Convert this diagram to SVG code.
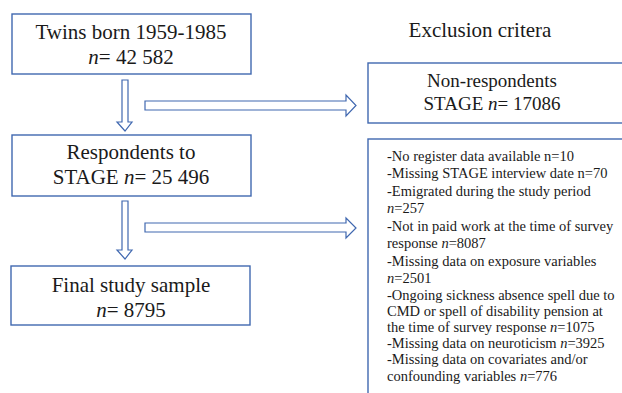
<svg xmlns="http://www.w3.org/2000/svg" width="622" height="393" viewBox="0 0 622 393">
<style>
.box{fill:#fff;stroke:#4068B0;stroke-width:1.4}
.arr{fill:#fff;stroke:#4068B0;stroke-width:1.2;stroke-linejoin:miter}
text{fill:#1a1a1a}
.t21{font-size:21px;text-anchor:middle}
.t19{font-size:19px;text-anchor:middle}
.t14{font-size:14.5px}
.i{font-style:italic}
</style>
<rect width="622" height="393" fill="#fff"/>
<g id="connectors">
<path class="arr" d="M122,80 H128 V122 H132 L125,131 L117,122 H122 Z"/>
<path class="arr" d="M122,201 H128 V250 H132 L125,259 L117,250 H122 Z"/>
<path class="arr" d="M145,101 H346 V95 L356,105.5 L346,116 V110 H145 Z"/>
<path class="arr" d="M145,223 H346 V218 L356,228 L346,238 V232 H145 Z"/>
</g>
<g font-family="'Liberation Serif', Tinos, 'Times New Roman', 'DejaVu Serif', serif">
<g id="twins">
<rect class="box" x="12" y="14" width="239" height="60"/>
<text class="t21" x="131" y="39">Twins born 1959-1985</text>
<text class="t21" x="131" y="64"><tspan class="i">n</tspan>= 42 582</text>
</g>
<g id="respondents">
<rect class="box" x="12" y="135" width="239" height="61"/>
<text class="t21" x="131" y="159">Respondents to</text>
<text class="t21" x="131" y="184">STAGE <tspan class="i">n</tspan>= 25 496</text>
</g>
<g id="final">
<rect class="box" x="11" y="266" width="239" height="59"/>
<text class="t21" x="131" y="292">Final study sample</text>
<text class="t21" x="131" y="317"><tspan class="i">n</tspan>= 8795</text>
</g>
<g id="title">
<text class="t21" x="480" y="37">Exclusion critera</text>
</g>
<g id="nonrespondents">
<rect class="box" x="368" y="63" width="262" height="60"/>
<text class="t19" x="492" y="87">Non-respondents</text>
<text class="t19" x="492" y="110">STAGE <tspan class="i">n</tspan>= 17086</text>
</g>
<g id="exclusions">
<rect class="box" x="368" y="139" width="262" height="270"/>
<text class="t14" x="387" y="161">-No register data available n=10</text>
<text class="t14" x="387" y="178">-Missing STAGE interview date n=70</text>
<text class="t14" x="387" y="196">-Emigrated during the study period</text>
<text class="t14" x="387" y="213"><tspan class="i">n</tspan>=257</text>
<text class="t14" x="387" y="231">-Not in paid work at the time of survey</text>
<text class="t14" x="387" y="248">response <tspan class="i">n</tspan>=8087</text>
<text class="t14" x="387" y="266">-Missing data on exposure variables</text>
<text class="t14" x="387" y="283"><tspan class="i">n</tspan>=2501</text>
<text class="t14" x="387" y="300">-Ongoing sickness absence spell due to</text>
<text class="t14" x="387" y="316">CMD or spell of disability pension at</text>
<text class="t14" x="387" y="332">the time of survey response <tspan class="i">n</tspan>=1075</text>
<text class="t14" x="387" y="348">-Missing data on neuroticism <tspan class="i">n</tspan>=3925</text>
<text class="t14" x="387" y="364">-Missing data on covariates and/or</text>
<text class="t14" x="387" y="381">confounding variables <tspan class="i">n</tspan>=776</text>
</g>
</g>
</svg>
